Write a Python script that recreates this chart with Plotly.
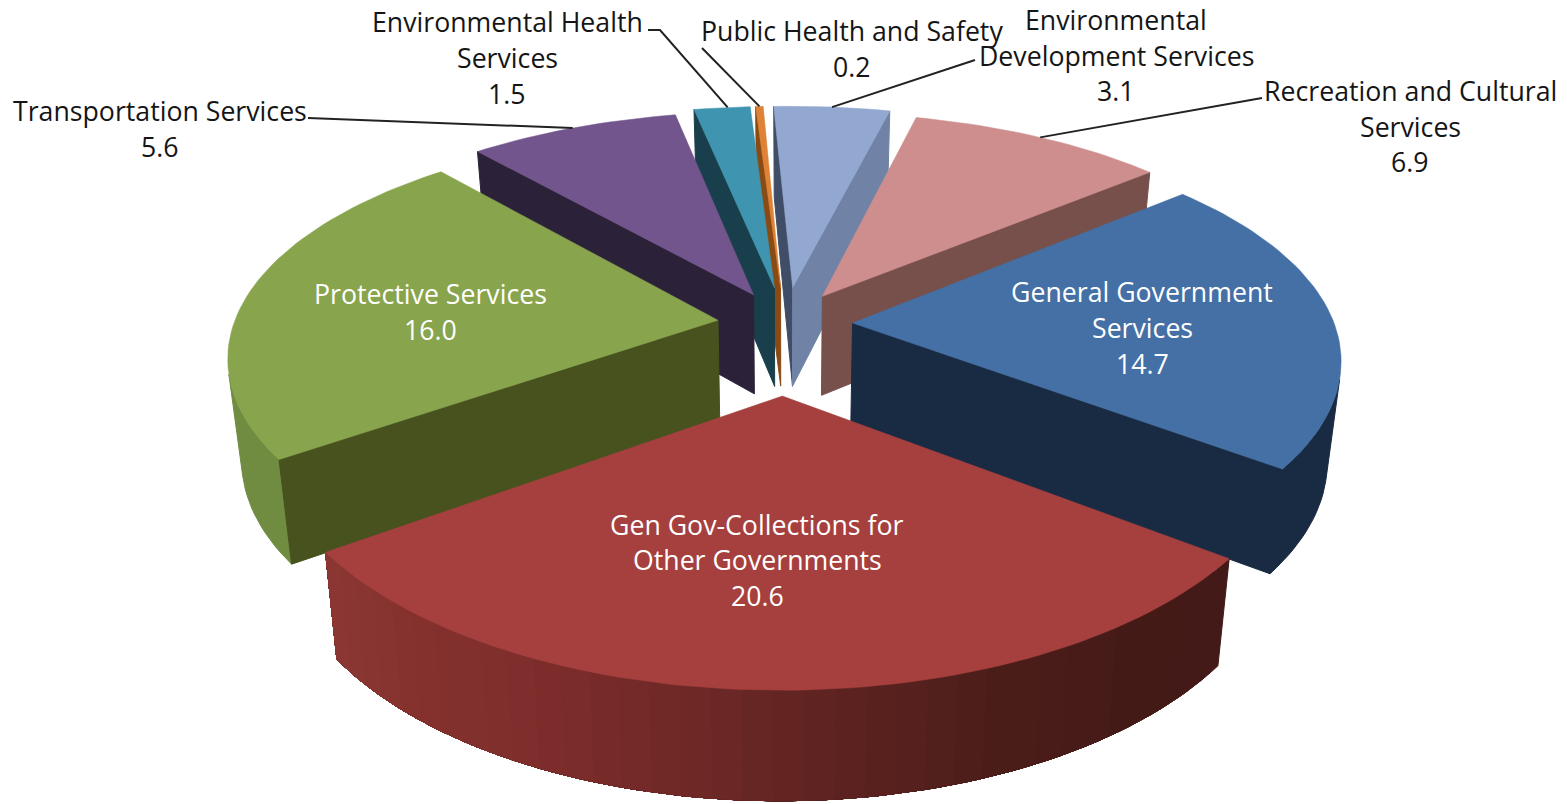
import numpy as np
import plotly.graph_objects as go

# Slices run clockwise from the top of the pie.
categories = ["Environmental Development Services", "Recreation and Cultural Services",
              "General Government Services", "Gen Gov-Collections for Other Governments",
              "Protective Services", "Transportation Services",
              "Environmental Health Services", "Public Health and Safety"]
values = [3.1, 6.9, 14.7, 20.6, 16.0, 5.6, 1.5, 0.2]

top_colors = ["#93a8d0", "#cf8e8e", "#4470a5", "#a5403e", "#88a44c", "#72558c", "#3f95b0", "#dd8236"]
start_wall_colors = ["#3f4d66", "#77504c", "#192b42", "#8c3733", "#47521f", "#2b2138", "#1a3f4c", "#8a4a14"]
end_wall_colors = ["#7083a6", "#77504c", "#192b42", "#431a17", "#47521f", "#2b2138", "#1a3f4c", "#8a4a14"]
rim_shades = [["#7083a6"], ["#77504c"], ["#192b42"],
              ["#431a17", "#451b18", "#4c1e1a", "#5c2320", "#702927", "#7d2e2c", "#85322f", "#8c3733"],
              ["#6f8c40"], ["#2b2138"], ["#1a3f4c"], ["#8a4a14"]]
pull = [0.17, 0.15, 0.14, 0.31, 0.14, 0.15, 0.17, 0.17]

# Label lines: text, centre x, centre y, colour
label_lines = [
    ("Environmental Health", 507, 21, "#151515"), ("Services", 507, 57, "#151515"), ("1.5", 507, 93, "#151515"),
    ("Public Health and Safety", 852, 30, "#151515"), ("0.2", 852, 66, "#151515"),
    ("Environmental", 1116, 19, "#151515"), ("Development Services", 1116, 55, "#151515"), ("3.1", 1116, 90, "#151515"),
    ("Recreation and Cultural", 1410, 90, "#151515"), ("Services", 1410, 126, "#151515"), ("6.9", 1410, 161, "#151515"),
    ("Transportation Services", 160, 110, "#151515"), ("5.6", 160, 146, "#151515"),
    ("General Government", 1142, 291, "white"), ("Services", 1142, 327, "white"), ("14.7", 1142, 363, "white"),
    ("Protective Services", 430, 293, "white"), ("16.0", 430, 329, "white"),
    ("Gen Gov-Collections for", 757, 524, "white"), ("Other Governments", 757, 559, "white"), ("20.6", 757, 595, "white"),
]

# Leader lines: slice index, where along the slice's arc they land, and the anchor points by the text
leaders = [
    (5, 0.5, [(308, 118)]),
    (6, 0.6, [(648, 30), (660, 30)]),
    (7, 0.5, [(702, 48)]),
    (0, 0.5, [(975, 60)]),
    (1, 0.5, [(1262, 98)]),
]

CX, CY = 785.0, 324.0
AX, AY = 483.0, 221.0
PERSP_X, PERSP_Y = 0.15, 0.16
SKEW_X, TILT_Y = -7.0, 3.0
DEPTH = 100.0
BOTTOM_SHRINK = 0.975
FIRST_ANGLE = -3.5
BAND_STEPS = 2


def project(X, Y, lower):
    """Map a disc point (X right, Y toward the viewer) to pixels; lower=1 is the underside."""
    X, Y = np.asarray(X, float), np.asarray(Y, float)
    shrink = BOTTOM_SHRINK if lower else 1.0
    return (CX + AX * X / (1.0 - PERSP_X * Y) * shrink + SKEW_X * Y,
            CY + AY * Y / (1.0 - PERSP_Y * Y) + TILT_Y * X + lower * DEPTH * (1 + 0.08 * Y))


def disc(theta_deg, radius, p, mid_deg):
    t, m = np.radians(theta_deg), np.radians(mid_deg)
    return radius * np.sin(t) + p * np.sin(m), -radius * np.cos(t) - p * np.cos(m)


def area(xs, ys):
    return 0.5 * np.sum(xs * np.roll(ys, -1) - np.roll(xs, -1) * ys)


def lerp_color(stops, f):
    rgb = [np.array([int(c[i:i + 2], 16) for i in (1, 3, 5)], float) for c in stops]
    if len(rgb) == 1:
        return stops[0]
    pos = f * (len(rgb) - 1)
    i = min(int(pos), len(rgb) - 2)
    c = rgb[i] + (rgb[i + 1] - rgb[i]) * (pos - i)
    return "rgb(%d,%d,%d)" % tuple(c)


fig = go.Figure()


def poly(xs, ys, color, width=0.5):
    fig.add_trace(go.Scatter(x=np.r_[xs, xs[0]], y=np.r_[ys, ys[0]], mode="lines", fill="toself",
                             fillcolor=color, line=dict(color=color, width=width),
                             hoverinfo="skip", showlegend=False))


total = sum(values)
edges = FIRST_ANGLE + np.r_[0, np.cumsum(values)] / total * 360.0
mids = (edges[:-1] + edges[1:]) / 2

# Paint from the back of the pie to the front.
order = sorted(range(len(values)), key=lambda i: -np.cos(np.radians(mids[i])))
for i in order:
    a0, a1, m, p = edges[i], edges[i + 1], mids[i], pull[i]
    n = max(3, int((a1 - a0) / 1.5))
    arc = np.linspace(a0, a1, n + 1)
    ax_, ay_ = disc(arc, 1.0, p, m)
    ox, oy = disc(np.array([a0]), 0.0, p, m)
    tx, ty = project(ax_, ay_, 0)
    bx, by = project(ax_, ay_, 1)
    otx, oty = project(ox, oy, 0)
    obx, oby = project(ox, oy, 1)

    # Outer rim: each shading band overlaps everything after it, so no seams open between bands
    facing = [j for j in range(n)
              if area(np.r_[tx[j], tx[j + 1], bx[j + 1], bx[j]], np.r_[ty[j], ty[j + 1], by[j + 1], by[j]]) < 0]
    if facing:
        first, last = facing[0], facing[-1] + 1
        step = BAND_STEPS if len(rim_shades[i]) > 1 else n + 1
        for k in range(first, last, step):
            poly(np.r_[tx[k:last + 1], bx[k:last + 1][::-1]], np.r_[ty[k:last + 1], by[k:last + 1][::-1]],
                 lerp_color(rim_shades[i], k / max(n - 1, 1)), width=1.0)

    # Cut faces, skipped when they turn away from the viewer
    start_q = (np.r_[otx, tx[0], bx[0], obx], np.r_[oty, ty[0], by[0], oby])
    end_q = (np.r_[tx[-1], otx, obx, bx[-1]], np.r_[ty[-1], oty, oby, by[-1]])
    for q, col in ((start_q, start_wall_colors[i]), (end_q, end_wall_colors[i])):
        if area(*q) < 0:
            poly(q[0], q[1], col, width=1.0)

    poly(np.r_[otx, tx], np.r_[oty, ty], top_colors[i])

for i, f, anchors in leaders:
    th = edges[i] + f * (edges[i + 1] - edges[i])
    ex, ey = project(*disc(np.array([th]), 1.0, pull[i], mids[i]), 0)
    xs = [a[0] for a in anchors] + [float(ex[0])]
    ys = [a[1] for a in anchors] + [float(ey[0])]
    fig.add_trace(go.Scatter(x=xs, y=ys, mode="lines", line=dict(color="#222222", width=2),
                             hoverinfo="skip", showlegend=False))

for text, x, y, color in label_lines:
    fig.add_annotation(x=x, y=y, text=text, showarrow=False, xanchor="center", yanchor="middle",
                       font=dict(family="Open Sans", size=26.7, color=color))

fig.update_layout(width=1567, height=804, margin=dict(l=0, r=0, t=0, b=0),
                  paper_bgcolor="white", plot_bgcolor="white", showlegend=False,
                  xaxis=dict(range=[0, 1567], visible=False, fixedrange=True),
                  yaxis=dict(range=[804, 0], visible=False, fixedrange=True))
fig.write_html("out.html")
